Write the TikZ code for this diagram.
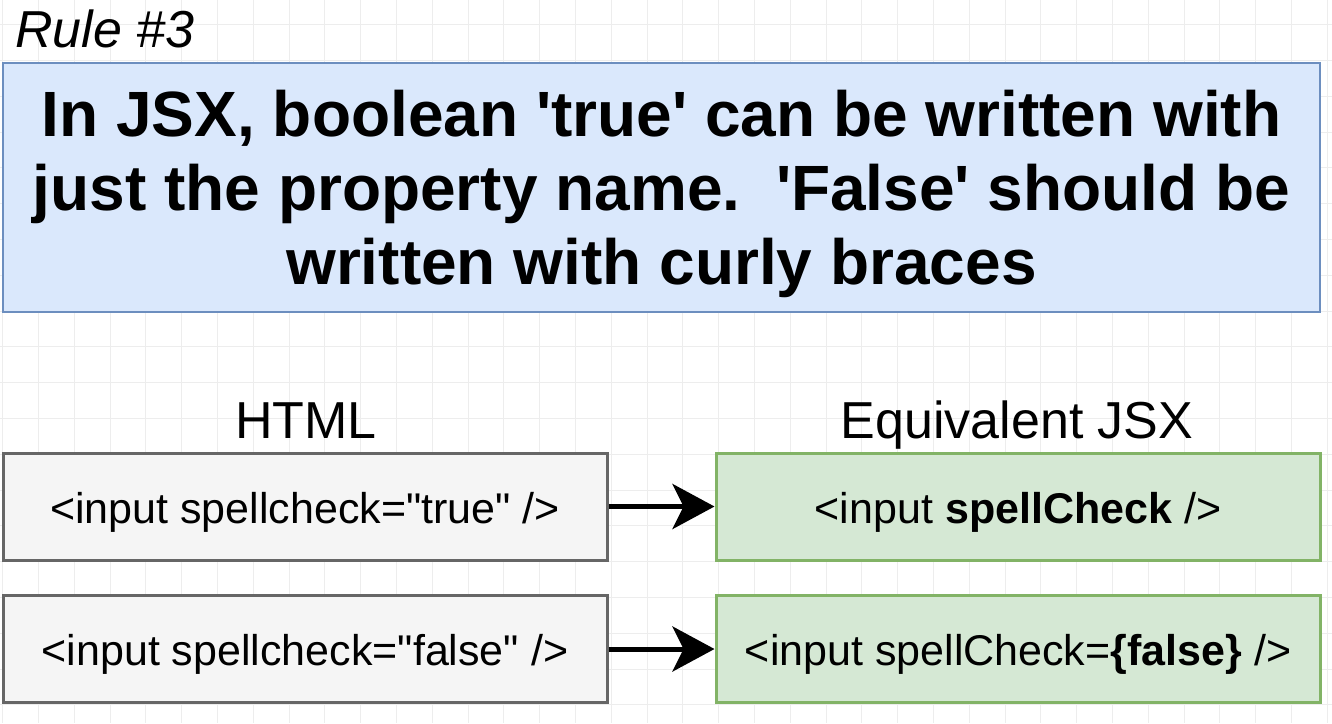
\documentclass[tikz,border=0pt]{standalone}
\usepackage{fontspec}
\setmainfont{Liberation Sans}
\usetikzlibrary{arrows.meta,positioning}

\definecolor{ruleblue}{HTML}{DAE8FC}
\definecolor{ruleblueline}{HTML}{6C8EBF}
\definecolor{htmlgray}{HTML}{F5F5F5}
\definecolor{htmlline}{HTML}{666666}
\definecolor{jsxgreen}{HTML}{D5E8D4}
\definecolor{jsxline}{HTML}{82B366}

\tikzset{
  gridline/.style={draw=black!7, line width=0.8pt},
  rulebox/.style={draw=ruleblueline, fill=ruleblue, line width=2pt,
    minimum width=1317pt, minimum height=249pt, align=center, text depth=0pt,
    font=\bfseries\fontsize{64}{74}\selectfont},
  codebox/.style={line width=3pt, minimum width=604pt, minimum height=107pt,
    text height=33pt, text depth=0pt, font=\fontsize{43}{48}\selectfont},
  htmlbox/.style={codebox, draw=htmlline, fill=htmlgray},
  jsxbox/.style={codebox, draw=jsxline, fill=jsxgreen},
  heading/.style={font=\fontsize{52}{60}\selectfont, anchor=base, inner sep=0pt},
  flowarrow/.style={line width=5pt,
    -{Stealth[length=42pt, width=45pt, inset=11pt]}}
}

\begin{document}
\begin{tikzpicture}[x=1pt,y=-1pt]
\useasboundingbox (0,0) rectangle (1332,723);

% background grid
\foreach \gx in {0,...,37}
  \draw[gridline] (2.6+35.8*\gx,0) -- (2.6+35.8*\gx,723);
\foreach \gy in {0,...,20}
  \draw[gridline] (0,24.5+35.8*\gy) -- (1332,24.5+35.8*\gy);

% rule title
\node[anchor=base west, font=\itshape\fontsize{52}{58}\selectfont, inner sep=0pt]
  (rulelabel) at (15,47) {Rule \#3};
\node[rulebox] (rule) at (661.5,187.5)
  {In JSX, boolean \textquotesingle true\textquotesingle\ can be written with\\
   just the property name.\ \ \textquotesingle False\textquotesingle\ should be\\
   written with curly braces};

% code boxes
\node[htmlbox] (html1) at (305,506.5)
  {<input spellcheck=\textquotedbl true\textquotedbl\ />};
\node[htmlbox] (html2) at (305,649)
  {<input spellcheck=\textquotedbl false\textquotedbl\ />};
\node[jsxbox, right=106pt of html1] (jsx1) {<input \textbf{spellCheck} />};
\node[jsxbox, right=106pt of html2] (jsx2) {<input spellCheck=\textbf{\{false\}} />};

% headings
\node[heading] (htmlhead) at (306,438) {HTML};
\node[heading] (jsxhead) at (1017,438) {Equivalent JSX};

% arrows
\draw[flowarrow] (html1) -- (jsx1);
\draw[flowarrow] (html2) -- (jsx2);

\end{tikzpicture}
\end{document}
